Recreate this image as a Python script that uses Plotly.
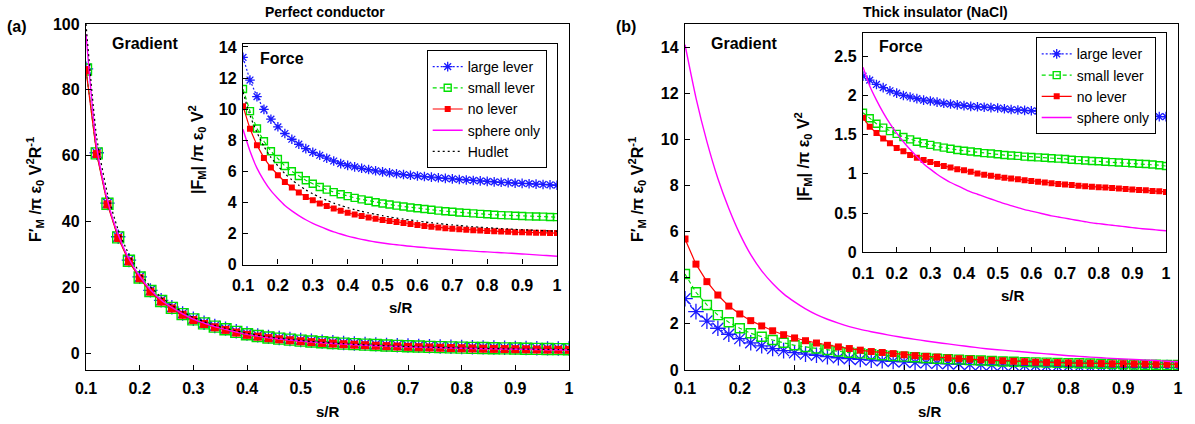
import plotly.graph_objects as go

# ---------------- data ----------------
s = [0.10, 0.12, 0.14, 0.16, 0.18, 0.20, 0.22, 0.24, 0.26, 0.28, 0.30, 0.32, 0.34, 0.36, 0.38,
     0.40, 0.42, 0.44, 0.46, 0.48, 0.50, 0.52, 0.54, 0.56, 0.58, 0.60, 0.62, 0.64, 0.66, 0.68,
     0.70, 0.72, 0.74, 0.76, 0.78, 0.80, 0.82, 0.84, 0.86, 0.88, 0.90, 0.92, 0.94, 0.96, 0.98, 1.00]

x_tickvals = [0.1, 0.2, 0.3, 0.4, 0.5, 0.6, 0.7, 0.8, 0.9, 1.0]
x_ticktext = ["0.1", "0.2", "0.3", "0.4", "0.5", "0.6", "0.7", "0.8", "0.9", "1"]
y_main_a_ticks = [0, 20, 40, 60, 80, 100]
y_int_ticks = [0, 2, 4, 6, 8, 10, 12, 14]
y_b_in_ticks = [0, 0.5, 1, 1.5, 2, 2.5]
y_b_in_text = ["0", "0.5", "1", "1.5", "2", "2.5"]

# (a) Perfect conductor - gradient
a_grad_large = [86.4, 60.9, 45.6, 35.4, 28.3, 23.2, 19.1, 16.1, 14.0, 12.1, 10.5, 9.3, 8.3, 7.5, 6.7,
                6.0, 5.45, 5.0, 4.65, 4.35, 4.05, 3.8, 3.55, 3.35, 3.15, 3.0, 2.85, 2.7, 2.57, 2.45,
                2.35, 2.25, 2.16, 2.08, 2.0, 1.93, 1.86, 1.8, 1.74, 1.69, 1.64, 1.6, 1.55, 1.51, 1.47, 1.44]
a_grad_small = [86.2, 60.7, 45.4, 35.2, 28.1, 23.0, 18.9, 15.9, 13.8, 11.9, 10.3, 9.1, 8.1, 7.3, 6.5,
                5.8, 5.25, 4.8, 4.45, 4.15, 3.85, 3.6, 3.35, 3.15, 2.95, 2.8, 2.65, 2.5, 2.37, 2.25,
                2.15, 2.05, 1.96, 1.88, 1.8, 1.73, 1.66, 1.6, 1.54, 1.49, 1.44, 1.4, 1.35, 1.31, 1.27, 1.24]
a_grad_none = [86.0, 60.5, 45.2, 35.0, 27.9, 22.8, 18.7, 15.7, 13.6, 11.7, 10.1, 8.9, 7.9, 7.1, 6.3,
               5.6, 5.05, 4.6, 4.25, 3.95, 3.65, 3.4, 3.15, 2.95, 2.75, 2.6, 2.45, 2.3, 2.17, 2.05,
               1.95, 1.85, 1.76, 1.68, 1.6, 1.53, 1.46, 1.4, 1.34, 1.29, 1.24, 1.2, 1.15, 1.11, 1.07, 1.04]
a_grad_sphere = [97.0, 62.5, 46.5, 36.0, 28.7, 23.4, 19.3, 16.2, 13.9, 12.0, 10.4, 9.2, 8.1, 7.25, 6.45,
                 5.75, 5.2, 4.72, 4.35, 4.02, 3.72, 3.45, 3.2, 2.98, 2.78, 2.62, 2.46, 2.31, 2.18, 2.06,
                 1.95, 1.85, 1.76, 1.67, 1.59, 1.52, 1.45, 1.39, 1.33, 1.28, 1.23, 1.18, 1.14, 1.1, 1.06, 1.02]
a_grad_hudlet = [100.0, 65.5, 48.5, 37.5, 30.0, 24.5, 20.3, 17.0, 14.6, 12.6, 10.9, 9.6, 8.5, 7.6, 6.8,
                 6.05, 5.45, 4.95, 4.55, 4.2, 3.88, 3.6, 3.35, 3.12, 2.92, 2.74, 2.58, 2.43, 2.29, 2.17,
                 2.06, 1.96, 1.86, 1.77, 1.69, 1.62, 1.55, 1.49, 1.43, 1.37, 1.32, 1.27, 1.23, 1.19, 1.15, 1.11]

# (a) Perfect conductor - force (inset)
a_force_large = [13.33, 11.87, 10.8, 9.98, 9.35, 8.86, 8.43, 8.06, 7.74, 7.46, 7.22, 7.03, 6.84, 6.66, 6.49,
                 6.38, 6.28, 6.19, 6.11, 6.03, 5.96, 5.90, 5.84, 5.79, 5.74, 5.70, 5.66, 5.62, 5.58, 5.54,
                 5.51, 5.47, 5.44, 5.41, 5.38, 5.35, 5.32, 5.29, 5.27, 5.24, 5.22, 5.20, 5.17, 5.15, 5.13, 5.10]
a_force_small = [11.29, 9.87, 8.75, 7.93, 7.29, 6.79, 6.34, 6.00, 5.70, 5.42, 5.20, 4.99, 4.82, 4.66, 4.52,
                 4.40, 4.29, 4.19, 4.10, 4.01, 3.93, 3.86, 3.79, 3.73, 3.67, 3.62, 3.57, 3.52, 3.47, 3.43,
                 3.39, 3.35, 3.32, 3.29, 3.26, 3.23, 3.20, 3.18, 3.16, 3.14, 3.12, 3.10, 3.09, 3.08, 3.06, 3.05]
a_force_none = [10.19, 8.73, 7.68, 6.86, 6.24, 5.74, 5.31, 4.95, 4.63, 4.35, 4.14, 3.93, 3.76, 3.61, 3.46,
                3.33, 3.22, 3.12, 3.03, 2.95, 2.86, 2.80, 2.74, 2.67, 2.60, 2.54, 2.48, 2.43, 2.38, 2.34,
                2.30, 2.27, 2.24, 2.21, 2.18, 2.16, 2.14, 2.12, 2.10, 2.08, 2.07, 2.06, 2.05, 2.04, 2.03, 2.02]
a_force_sphere = [8.7, 7.3, 6.2, 5.4, 4.75, 4.25, 3.8, 3.45, 3.15, 2.88, 2.65, 2.45, 2.27, 2.1, 1.96,
                  1.83, 1.72, 1.62, 1.53, 1.45, 1.38, 1.32, 1.27, 1.22, 1.17, 1.13, 1.09, 1.05, 1.01, 0.98,
                  0.95, 0.92, 0.89, 0.86, 0.83, 0.81, 0.78, 0.76, 0.73, 0.71, 0.68, 0.65, 0.62, 0.59, 0.56, 0.53]
a_force_hudlet = [11.1, 9.6, 8.5, 7.6, 6.9, 6.35, 5.85, 5.45, 5.1, 4.8, 4.55, 4.33, 4.13, 3.95, 3.8,
                  3.66, 3.53, 3.42, 3.32, 3.23, 3.14, 3.06, 2.99, 2.92, 2.86, 2.8, 2.74, 2.69, 2.64, 2.59,
                  2.55, 2.51, 2.47, 2.43, 2.4, 2.37, 2.34, 2.31, 2.29, 2.26, 2.24, 2.22, 2.2, 2.18, 2.16, 2.14]

# (b) Thick insulator (NaCl) - gradient
b_grad_large = [3.09, 2.53, 2.12, 1.81, 1.55, 1.36, 1.18, 1.05, 0.93, 0.84, 0.75, 0.69, 0.64, 0.58, 0.53,
                0.49, 0.46, 0.43, 0.40, 0.37, 0.35, 0.33, 0.31, 0.29, 0.27, 0.26, 0.24, 0.23, 0.22, 0.21,
                0.20, 0.19, 0.18, 0.17, 0.16, 0.16, 0.15, 0.14, 0.14, 0.13, 0.13, 0.12, 0.12, 0.11, 0.11, 0.10]
b_grad_small = [4.16, 3.37, 2.82, 2.38, 2.07, 1.81, 1.59, 1.44, 1.30, 1.18, 1.07, 1.00, 0.93, 0.87, 0.80,
                0.75, 0.72, 0.68, 0.64, 0.61, 0.58, 0.55, 0.52, 0.49, 0.47, 0.45, 0.43, 0.41, 0.39, 0.37,
                0.36, 0.34, 0.33, 0.32, 0.31, 0.30, 0.29, 0.28, 0.27, 0.26, 0.25, 0.24, 0.23, 0.23, 0.22, 0.22]
b_grad_none = [5.68, 4.59, 3.83, 3.25, 2.77, 2.43, 2.14, 1.91, 1.70, 1.53, 1.39, 1.27, 1.17, 1.07, 1.00,
               0.93, 0.86, 0.80, 0.76, 0.71, 0.66, 0.62, 0.59, 0.56, 0.52, 0.49, 0.47, 0.44, 0.42, 0.40,
               0.38, 0.36, 0.34, 0.33, 0.32, 0.31, 0.30, 0.29, 0.28, 0.27, 0.27, 0.26, 0.26, 0.25, 0.25, 0.25]
b_grad_sphere = [14.1, 11.8, 9.9, 8.3, 7.0, 5.9, 5.0, 4.3, 3.75, 3.3, 2.95, 2.65, 2.4, 2.2, 2.03,
                 1.88, 1.76, 1.66, 1.57, 1.48, 1.40, 1.33, 1.26, 1.19, 1.13, 1.07, 1.01, 0.95, 0.90, 0.86,
                 0.82, 0.78, 0.74, 0.70, 0.66, 0.62, 0.59, 0.56, 0.53, 0.50, 0.48, 0.46, 0.43, 0.41, 0.38, 0.36]

# (b) Thick insulator (NaCl) - force (inset)
b_force_large = [2.246, 2.195, 2.14, 2.10, 2.06, 2.03, 2.00, 1.98, 1.96, 1.94, 1.93, 1.915, 1.90, 1.89, 1.88,
                 1.87, 1.86, 1.855, 1.85, 1.845, 1.84, 1.83, 1.82, 1.815, 1.81, 1.805, 1.80, 1.795, 1.79, 1.785,
                 1.78, 1.775, 1.77, 1.765, 1.76, 1.755, 1.75, 1.75, 1.745, 1.745, 1.74, 1.74, 1.735, 1.735, 1.73, 1.73]
b_force_small = [1.78, 1.71, 1.64, 1.59, 1.545, 1.51, 1.47, 1.44, 1.41, 1.39, 1.37, 1.35, 1.335, 1.32, 1.305,
                 1.295, 1.285, 1.275, 1.265, 1.26, 1.25, 1.24, 1.235, 1.23, 1.22, 1.215, 1.21, 1.205, 1.20, 1.195,
                 1.19, 1.18, 1.175, 1.17, 1.165, 1.16, 1.155, 1.15, 1.145, 1.14, 1.135, 1.13, 1.125, 1.12, 1.11, 1.10]
b_force_none = [1.715, 1.60, 1.52, 1.45, 1.39, 1.33, 1.29, 1.24, 1.205, 1.176, 1.15, 1.125, 1.10, 1.08, 1.06,
                1.045, 1.027, 1.005, 0.99, 0.975, 0.962, 0.95, 0.94, 0.93, 0.92, 0.91, 0.90, 0.89, 0.88, 0.872,
                0.865, 0.858, 0.85, 0.843, 0.837, 0.83, 0.825, 0.82, 0.813, 0.807, 0.80, 0.795, 0.79, 0.783, 0.777, 0.77]
b_force_sphere = [2.36, 2.12, 1.94, 1.78, 1.64, 1.52, 1.41, 1.31, 1.22, 1.13, 1.06, 0.995, 0.94, 0.89, 0.85,
                  0.81, 0.77, 0.74, 0.71, 0.68, 0.65, 0.62, 0.595, 0.57, 0.545, 0.525, 0.505, 0.485, 0.465, 0.45,
                  0.435, 0.42, 0.405, 0.39, 0.375, 0.365, 0.355, 0.345, 0.335, 0.325, 0.315, 0.305, 0.297, 0.29, 0.282, 0.275]

# ---------------- styling ----------------
W, H = 1195, 424
FONT = "Liberation Sans, Arial, Helvetica, sans-serif"
BLUE, GREEN, RED, MAGENTA, BLACK = "#1a1aff", "#00e000", "#ff0000", "#ff00ff", "#000000"


def px_x(p):
    return p / W


def px_y(p):
    return 1 - p / H


fig = go.Figure()


def add_set(xa, ya, large, small, none, sphere, hudlet, sizes, legend=None):
    show = legend is not None
    lg = legend if legend else "legend"
    bs, gs, rs = sizes
    fig.add_trace(go.Scatter(x=s, y=large, xaxis=xa, yaxis=ya, mode="lines+markers", name="large lever",
                             line=dict(color=BLUE, width=1.2, dash="2px,2px"),
                             marker=dict(symbol="asterisk-open", size=bs, color=BLUE,
                                         line=dict(color=BLUE, width=1.3)),
                             showlegend=show, legend=lg))
    fig.add_trace(go.Scatter(x=s, y=small, xaxis=xa, yaxis=ya, mode="lines+markers", name="small lever",
                             line=dict(color=GREEN, width=1.2, dash="4px,3px"),
                             marker=dict(symbol="square-open", size=gs, color=GREEN,
                                         line=dict(color=GREEN, width=1.4)),
                             showlegend=show, legend=lg))
    fig.add_trace(go.Scatter(x=s, y=none, xaxis=xa, yaxis=ya, mode="lines+markers", name="no lever",
                             line=dict(color=RED, width=1.2),
                             marker=dict(symbol="square", size=rs, color=RED, line=dict(width=0)),
                             showlegend=show, legend=lg))
    fig.add_trace(go.Scatter(x=s, y=sphere, xaxis=xa, yaxis=ya, mode="lines", name="sphere only",
                             line=dict(color=MAGENTA, width=1.4, shape="spline", smoothing=0.6),
                             showlegend=show, legend=lg))
    if hudlet is not None:
        fig.add_trace(go.Scatter(x=s, y=hudlet, xaxis=xa, yaxis=ya, mode="lines", name="Hudlet",
                                 line=dict(color=BLACK, width=1.2, dash="2px,3px", shape="spline", smoothing=0.6),
                                 showlegend=show, legend=lg))


add_set("x", "y", a_grad_large, a_grad_small, a_grad_none, a_grad_sphere, a_grad_hudlet, (12, 11, 8))
add_set("x2", "y2", a_force_large, a_force_small, a_force_none, a_force_sphere, a_force_hudlet, (8, 7, 6),
        legend="legend")
add_set("x3", "y3", b_grad_large, b_grad_small, b_grad_none, b_grad_sphere, None, (13, 9, 7))
add_set("x4", "y4", b_force_large, b_force_small, b_force_none, b_force_sphere, None, (8, 7, 6),
        legend="legend2")


def axis(domain, rng, tickvals, ticktext, anchor, standoff):
    return dict(domain=domain, range=rng, anchor=anchor, tickmode="array", tickvals=tickvals,
                ticktext=[f"<b>{t}</b>" for t in ticktext],
                showline=True, linecolor="black", linewidth=1.4, mirror=True, ticks="inside", ticklen=5,
                tickwidth=1.2, tickcolor="black", showgrid=False, zeroline=False, ticklabelstandoff=standoff,
                tickfont=dict(family=FONT, size=16, color="black"))


dom_a_main_x = [px_x(86), px_x(569)]
dom_main_y = [px_y(370), px_y(24)]
dom_a_in_x = [px_x(243), px_x(557)]
dom_a_in_y = [px_y(264.5), px_y(44)]
dom_b_main_x = [px_x(685), px_x(1178)]
dom_b_in_x = [px_x(863), px_x(1166)]
dom_b_in_y = [px_y(252.3), px_y(32.7)]

fig.update_layout(
    xaxis=axis(dom_a_main_x, [0.1, 1.0], x_tickvals, x_ticktext, "y", 4),
    yaxis=axis(dom_main_y, [-5.07, 100], y_main_a_ticks, [str(v) for v in y_main_a_ticks], "x", 2),
    xaxis2=axis(dom_a_in_x, [0.1, 1.0], x_tickvals, x_ticktext, "y2", 6),
    yaxis2=axis(dom_a_in_y, [0, 14.19], y_int_ticks, [str(v) for v in y_int_ticks], "x2", 2),
    xaxis3=axis(dom_b_main_x, [0.1, 1.0], x_tickvals, x_ticktext, "y3", 4),
    yaxis3=axis(dom_main_y, [0, 15.0], y_int_ticks, [str(v) for v in y_int_ticks], "x3", 2),
    xaxis4=axis(dom_b_in_x, [0.1, 1.0], x_tickvals, x_ticktext, "y4", 6),
    yaxis4=axis(dom_b_in_y, [0, 2.80], y_b_in_ticks, y_b_in_text, "x4", 2),
)

legend_style = dict(font=dict(family=FONT, size=14, color="black"), bgcolor="white", bordercolor="black",
                    borderwidth=1, xanchor="right", yanchor="top", tracegroupgap=0, itemwidth=30)
fig.update_layout(
    legend=dict(x=px_x(546.7), y=px_y(50), **legend_style),
    legend2=dict(x=px_x(1155.7), y=px_y(37.3), **legend_style),
)

ann = []


def text(x, y, t, size=16, bold=True, angle=0):
    ann.append(dict(x=px_x(x), y=px_y(y), xref="paper", yref="paper", text=(f"<b>{t}</b>" if bold else t),
                    showarrow=False, xanchor="center", yanchor="middle", textangle=angle,
                    font=dict(family=FONT, size=size, color="black")))


text(17, 26, "(a)", 16)
text(626, 27, "(b)", 16)
text(325, 12, "Perfect conductor", 14)
text(935, 12, "Thick insulator (NaCl)", 14)
text(144.5, 44, "Gradient", 16)
text(282, 58, "Force", 16)
text(744, 44, "Gradient", 16)
text(900.5, 46, "Force", 16)
text(328, 411, "s/R", 15)
text(400.5, 307, "s/R", 15)
text(930, 411, "s/R", 15)
text(1013, 295, "s/R", 15)
ytitle_main = "F′<sub>M</sub> /π ε<sub>0</sub> V<sup>2</sup>R<sup>-1</sup>"
ytitle_in = "|F<sub>M</sub>| /π ε<sub>0</sub> V<sup>2</sup>"
text(35, 190, ytitle_main, 16, angle=-90)
text(197, 150, ytitle_in, 16, angle=-90)
text(637, 190, ytitle_main, 16, angle=-90)
text(803, 157, ytitle_in, 16, angle=-90)

fig.update_layout(annotations=ann, width=W, height=H, margin=dict(l=0, r=0, t=0, b=0),
                  paper_bgcolor="white", plot_bgcolor="white", template="none",
                  font=dict(family=FONT, size=16, color="black"))

fig.write_html("out.html")
